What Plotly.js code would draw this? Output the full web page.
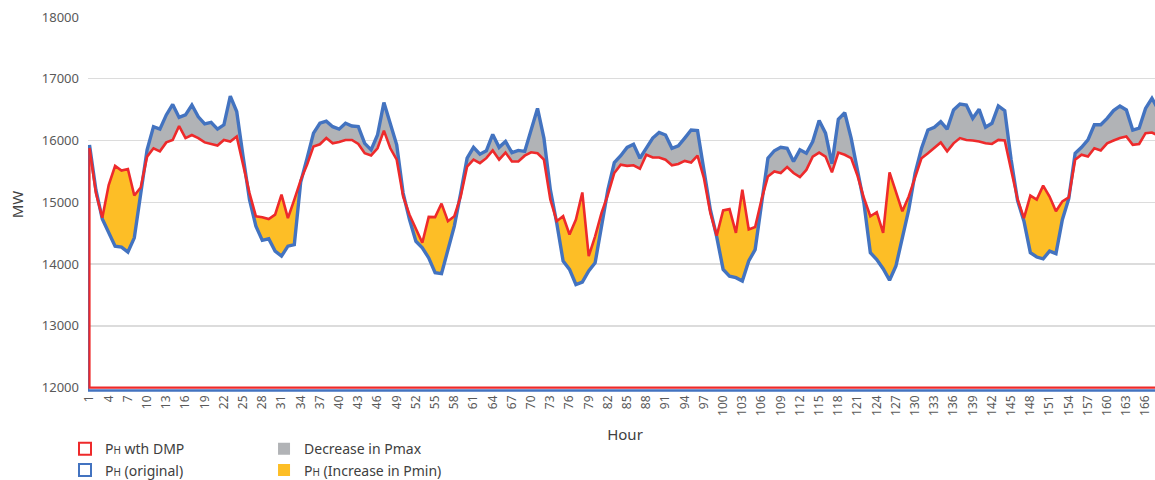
<!DOCTYPE html>
<html><head><meta charset="utf-8">
<script src="https://cdn.plot.ly/plotly-3.0.1.min.js"></script>
<style>html,body{margin:0;padding:0;overflow:hidden;background:#fff}#chart{width:1172px;height:480px}</style>
</head><body><div id="chart"></div>
<script>
const hours = [1,2,3,4,5,6,7,8,9,10,11,12,13,14,15,16,17,18,19,20,21,22,23,24,25,26,27,28,29,30,31,32,33,34,35,36,37,38,39,40,41,42,43,44,45,46,47,48,49,50,51,52,53,54,55,56,57,58,59,60,61,62,63,64,65,66,67,68,69,70,71,72,73,74,75,76,77,78,79,80,81,82,83,84,85,86,87,88,89,90,91,92,93,94,95,96,97,98,99,100,101,102,103,104,105,106,107,108,109,110,111,112,113,114,115,116,117,118,119,120,121,122,123,124,125,126,127,128,129,130,131,132,133,134,135,136,137,138,139,140,141,142,143,144,145,146,147,148,149,150,151,152,153,154,155,156,157,158,159,160,161,162,163,164,165,166,167,168];

const phWithDMP = [15880,15150,14750,15280,15590,15515,15540,15110,15240,15740,15875,15825,15970,16010,16235,16040,16090,16040,15970,15940,15920,16010,15985,16065,
15610,15150,14775,14760,14730,14800,15125,14745,15045,15360,15610,15905,15940,16040,15955,15975,16010,16010,15945,15795,15760,15875,16160,15875,
15690,15095,14800,14560,14345,14765,14760,14980,14695,14775,15095,15580,15690,15635,15715,15840,15690,15805,15660,15660,15755,15810,15795,15690,
15045,14695,14775,14480,14720,15160,14130,14450,14830,15125,15475,15610,15590,15600,15545,15770,15725,15725,15690,15600,15620,15670,15645,15755,
15390,14830,14460,14870,14890,14505,15205,14560,14600,15045,15420,15500,15475,15570,15475,15410,15525,15740,15805,15740,15485,15805,15770,15715,
15430,15070,14775,14840,14505,15485,15175,14855,15095,15420,15715,15795,15890,15970,15825,15955,16040,16010,16000,15985,15955,15945,16010,16000,
15525,15050,14745,15110,15045,15270,15095,14855,15015,15080,15690,15770,15740,15875,15840,15955,16000,16040,16065,15930,15945,16120,16130,16080];

const phOriginal = [15930,15200,14730,14500,14290,14275,14195,14425,15150,15850,16225,16185,16415,16585,16375,16415,16575,16385,16270,16295,16185,16255,16720,16470,
15740,15045,14615,14385,14410,14210,14130,14290,14315,15330,15715,16120,16280,16315,16225,16185,16280,16235,16225,15955,15850,16090,16615,16280,
15930,15150,14720,14370,14265,14100,13860,13845,14230,14615,15150,15715,15890,15780,15835,16100,15890,15985,15805,15840,15825,16170,16520,16040,
15205,14665,14050,13915,13670,13710,13890,14020,14615,15205,15645,15755,15890,15940,15715,15890,16040,16130,16090,15875,15915,16040,16170,16160,
15525,14880,14440,13915,13805,13780,13725,14050,14235,14935,15715,15835,15890,15875,15660,15850,15795,15985,16325,16120,15625,16345,16450,16040,
15525,14990,14185,14075,13925,13740,13970,14400,14880,15475,15875,16170,16215,16305,16185,16495,16590,16575,16360,16505,16215,16280,16560,16485,
15690,15030,14695,14185,14115,14085,14210,14170,14720,15060,15795,15890,16010,16255,16255,16360,16485,16560,16495,16170,16200,16520,16685,16500];

const xTickLabels = [1,4,7,10,13,16,19,22,25,28,31,34,37,40,43,46,49,52,55,58,61,64,67,70,73,76,79,82,85,88,91,94,97,100,103,106,109,112,115,118,121,124,127,130,133,136,139,142,145,148,151,154,157,160,163,166];
const yTickValues = [12000,13000,14000,15000,16000,17000,18000];

const seriesNames = ['P<span style="font-size:10px">H</span> wth DMP','P<span style="font-size:10px">H</span> (original)','Decrease in Pmax','P<span style="font-size:10px">H</span> (Increase in Pmin)'];

const BASE = yTickValues[0];
const RED = '#EE2A2B', BLUE = '#4373C0', GREY = '#B1B3B6', ORANGE = '#FDBE26';
const blueEdgeShift = {x: 0.22, y: 45};

const lower = hours.map((h, i) => Math.min(phWithDMP[i], phOriginal[i]));
const last = hours.length - 1;
const nolegend = {showlegend: false, hoverinfo: 'skip'};

const traces = [
  Object.assign({x: hours, y: lower, mode: 'lines', line: {width: 0, color: GREY}}, nolegend),
  Object.assign({x: hours, y: phOriginal, mode: 'lines', fill: 'tonexty', fillcolor: GREY, line: {width: 0, color: GREY}}, nolegend),
  Object.assign({x: hours, y: lower, mode: 'lines', line: {width: 0, color: ORANGE}}, nolegend),
  Object.assign({x: hours, y: phWithDMP, mode: 'lines', fill: 'tonexty', fillcolor: ORANGE, line: {width: 0, color: ORANGE}}, nolegend),
  Object.assign({x: [hours[0] - blueEdgeShift.x, hours[0] - blueEdgeShift.x, hours[last]],
                 y: [phOriginal[0], BASE - blueEdgeShift.y, BASE - blueEdgeShift.y], mode: 'lines', line: {width: 2.5, color: BLUE}}, nolegend),
  Object.assign({x: [hours[0], hours[0], hours[last]], y: [phWithDMP[0], BASE, BASE], mode: 'lines', line: {width: 2.2, color: RED}}, nolegend),
  Object.assign({x: hours, y: phOriginal, mode: 'lines', line: {width: 3.4, color: BLUE}}, nolegend),
  Object.assign({x: hours, y: phWithDMP, mode: 'lines', line: {width: 2.6, color: RED}}, nolegend),
  {x: [null], y: [null], mode: 'markers', name: seriesNames[0], legend: 'legend', marker: {symbol: 'square', size: 11, color: '#fff', line: {color: RED, width: 3}}},
  {x: [null], y: [null], mode: 'markers', name: seriesNames[1], legend: 'legend', marker: {symbol: 'square', size: 11, color: '#fff', line: {color: BLUE, width: 3}}},
  {x: [null], y: [null], mode: 'markers', name: seriesNames[2], legend: 'legend2', marker: {symbol: 'square', size: 11, color: GREY}},
  {x: [null], y: [null], mode: 'markers', name: seriesNames[3], legend: 'legend2', marker: {symbol: 'square', size: 11, color: ORANGE}}
];

const font = {family: 'Noto Sans, sans-serif', color: '#404040'};
const legendCommon = {orientation: 'v', xanchor: 'left', yanchor: 'top', y: -0.11, bgcolor: 'rgba(0,0,0,0)', traceorder: 'normal',
  font: Object.assign({size: 14}, font), tracegroupgap: 0, itemsizing: 'constant'};

const layout = {
  width: 1172, height: 480,
  margin: {l: 88, r: 10, t: 17, b: 88, autoexpand: false},
  paper_bgcolor: '#fff', plot_bgcolor: '#fff',
  font: font,
  showlegend: true,
  xaxis: {
    range: [0.766, 168.57], automargin: false,
    tickmode: 'array', tickvals: xTickLabels, ticktext: xTickLabels.map(String),
    tickangle: -90, tickfont: {family: 'Noto Sans, sans-serif', size: 12, color: '#595959'},
    showgrid: false, zeroline: false, showline: false, ticks: '',
    title: {text: 'Hour', font: {family: 'Noto Sans, sans-serif', size: 15, color: '#404040'}, standoff: 14}
  },
  yaxis: {
    range: [11930, 18000], automargin: false,
    tickmode: 'array', tickvals: yTickValues, ticktext: yTickValues.map(String),
    tickfont: {family: 'Noto Sans, sans-serif', size: 13, color: '#595959'},
    gridcolor: '#DCDCDC', gridwidth: 1.4, zeroline: false, showline: false, ticks: '',
    ticklabelstandoff: 8,
    title: {text: 'MW', font: {family: 'Noto Sans, sans-serif', size: 15, color: '#404040'}, standoff: 14}
  },
  legend: Object.assign({x: -0.0214}, legendCommon),
  legend2: Object.assign({x: 0.1639}, legendCommon)
};

Plotly.newPlot('chart', traces, layout, {displayModeBar: false, staticPlot: true});
</script>
</body></html>
